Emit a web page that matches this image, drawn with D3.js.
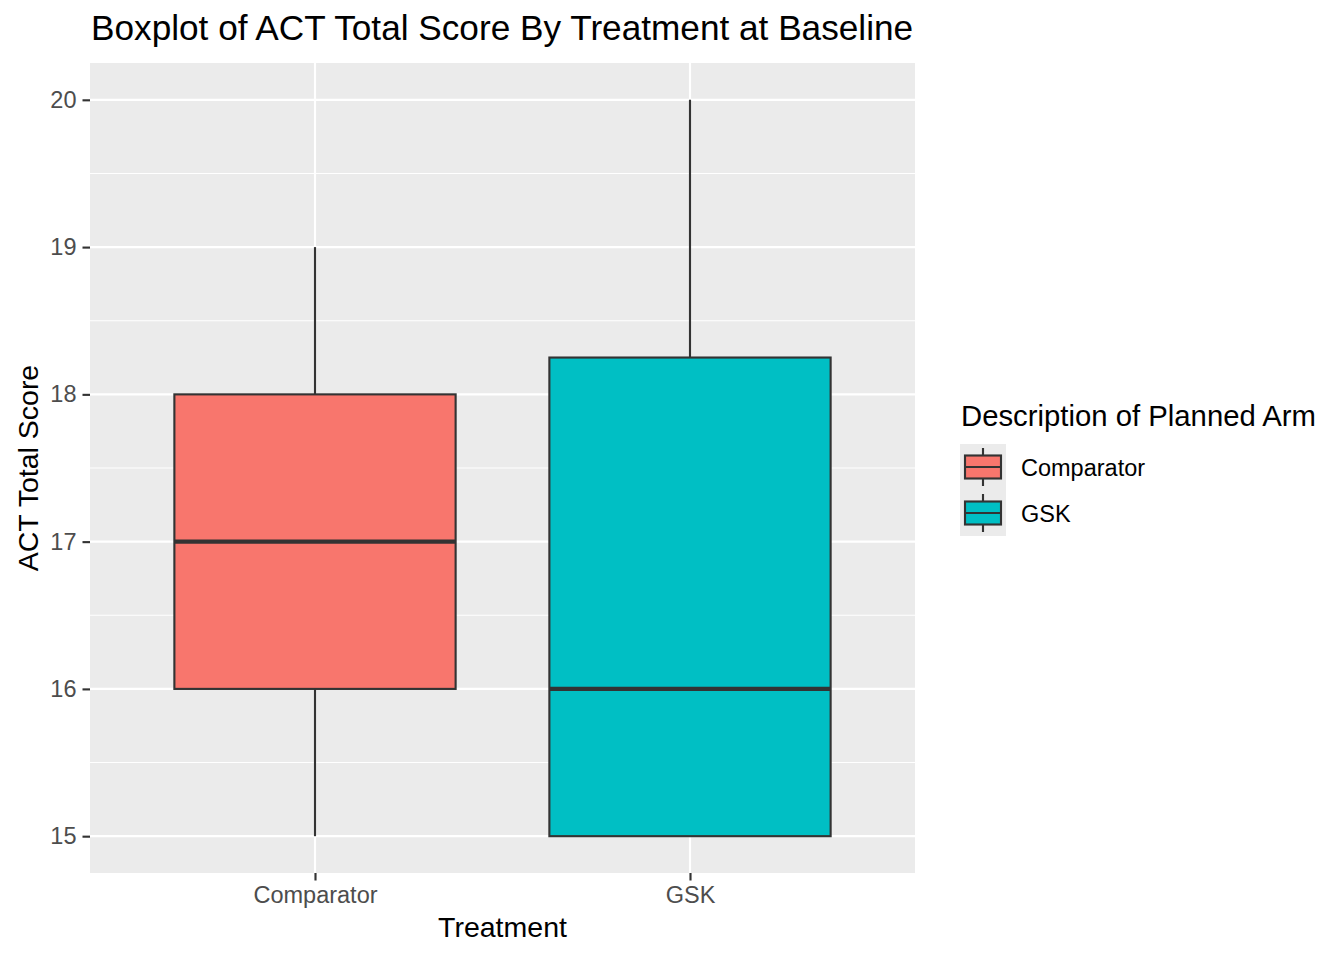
<!DOCTYPE html>
<html>
<head>
<meta charset="utf-8">
<script src="https://cdn.jsdelivr.net/npm/d3@7"></script>
<style>
body{margin:0;background:#fff;}
text{font-family:"Liberation Sans",Arial,sans-serif;}
</style>
</head>
<body>
<div id="chart-area"></div>
<script>
// data
let groups=["Comparator","GSK"];
let lowWhisker=[15,15];
let q1=[16,15];
let median=[17,16];
let q3=[18,18.25];
let highWhisker=[19,20];
let yTicks=[15,16,17,18,19,20];
let yMinor=[15.5,16.5,17.5,18.5,19.5];
let fills=["#F8766D","#00BFC4"];

let W=1344,H=960;
let panel={left:90,right:915,top:63,bottom:873};

let svg=d3.select("#chart-area").append("svg")
	.attr("width",W)
	.attr("height",H);

//---------SCALES--------------
let x=d3.scaleLinear()
	.domain([0.4,2.6])
	.range([panel.left,panel.right]);

let y=d3.scaleLinear()
	.domain([14.75,20.25])
	.range([panel.bottom,panel.top]);

let bw=0.75;

//---------PANEL--------------
svg.append("rect")
	.attr("x",panel.left)
	.attr("y",panel.top)
	.attr("width",panel.right-panel.left)
	.attr("height",panel.bottom-panel.top)
	.attr("fill","#EBEBEB");

svg.selectAll(".minor").data(yMinor).enter().append("line")
	.attr("x1",panel.left).attr("x2",panel.right)
	.attr("y1",d=>y(d)).attr("y2",d=>y(d))
	.attr("stroke","#fff").attr("stroke-width",1.07);

svg.selectAll(".major").data(yTicks).enter().append("line")
	.attr("x1",panel.left).attr("x2",panel.right)
	.attr("y1",d=>y(d)).attr("y2",d=>y(d))
	.attr("stroke","#fff").attr("stroke-width",2.13);

svg.selectAll(".vmajor").data(groups).enter().append("line")
	.attr("x1",(d,i)=>x(i+1)).attr("x2",(d,i)=>x(i+1))
	.attr("y1",panel.top).attr("y2",panel.bottom)
	.attr("stroke","#fff").attr("stroke-width",2.13);

//-------AXES------------------
let yAxis=d3.axisLeft(y).tickValues(yTicks).tickFormat(d3.format("d")).tickSize(7.5).tickPadding(6);
let yAxisGroup=svg.append("g")
	.attr("transform","translate("+panel.left+",0)")
	.call(yAxis);

let xAxis=d3.axisBottom(x).tickValues([1,2]).tickFormat(d=>groups[d-1]).tickSize(7.5).tickPadding(6);
let xAxisGroup=svg.append("g")
	.attr("transform","translate(0,"+panel.bottom+")")
	.call(xAxis);

[yAxisGroup,xAxisGroup].forEach(function(a){
	a.select(".domain").remove();
	a.selectAll(".tick line").attr("stroke","#333333").attr("stroke-width",2.13);
	a.selectAll(".tick text").attr("fill","#4D4D4D").attr("font-size","23.5px")
		.style("font-family","'Liberation Sans',Arial,sans-serif");
});

//---------BOXES--------------
let boxes=svg.selectAll(".box").data(groups).enter().append("g");

boxes.append("line")
	.attr("x1",(d,i)=>x(i+1)).attr("x2",(d,i)=>x(i+1))
	.attr("y1",(d,i)=>y(q3[i])).attr("y2",(d,i)=>y(highWhisker[i]))
	.attr("stroke","#333333").attr("stroke-width",2.13);

boxes.append("line")
	.attr("x1",(d,i)=>x(i+1)).attr("x2",(d,i)=>x(i+1))
	.attr("y1",(d,i)=>y(q1[i])).attr("y2",(d,i)=>y(lowWhisker[i]))
	.attr("stroke","#333333").attr("stroke-width",2.13);

boxes.append("rect")
	.attr("x",(d,i)=>x(i+1-bw/2))
	.attr("width",(d,i)=>x(i+1+bw/2)-x(i+1-bw/2))
	.attr("y",(d,i)=>y(q3[i]))
	.attr("height",(d,i)=>y(q1[i])-y(q3[i]))
	.attr("fill",(d,i)=>fills[i])
	.attr("stroke","#333333").attr("stroke-width",2.13);

boxes.append("line")
	.attr("x1",(d,i)=>x(i+1-bw/2)).attr("x2",(d,i)=>x(i+1+bw/2))
	.attr("y1",(d,i)=>y(median[i])).attr("y2",(d,i)=>y(median[i]))
	.attr("stroke","#333333").attr("stroke-width",4.26);

//------LABELS----------------
svg.append("text")
	.attr("x",91).attr("y",40)
	.attr("font-size","35.2px")
	.text("Boxplot of ACT Total Score By Treatment at Baseline");

svg.append("text")
	.attr("x",(panel.left+panel.right)/2).attr("y",937)
	.attr("text-anchor","middle").attr("font-size","28.5px")
	.text("Treatment");

svg.append("text")
	.attr("transform","translate(38,"+((panel.top+panel.bottom)/2)+") rotate(-90)")
	.attr("text-anchor","middle").attr("font-size","28.5px")
	.text("ACT Total Score");

//--------LEGEND--------------
svg.append("text")
	.attr("x",961).attr("y",426)
	.attr("font-size","29.3px")
	.text("Description of Planned Arm");

let legend=svg.append("g").attr("transform","translate(960,444)");

groups.forEach(function(g,i){
	let row=legend.append("g").attr("transform","translate(0,"+i*46+")");
	row.append("rect").attr("width",46).attr("height",46).attr("fill","#EBEBEB");
	row.append("line").attr("x1",23).attr("x2",23).attr("y1",4).attr("y2",42)
		.attr("stroke","#333333").attr("stroke-width",2.13);
	row.append("rect").attr("x",5).attr("y",11.5).attr("width",36).attr("height",23)
		.attr("fill",fills[i]).attr("stroke","#333333").attr("stroke-width",2.13);
	row.append("line").attr("x1",5).attr("x2",41).attr("y1",23).attr("y2",23)
		.attr("stroke","#333333").attr("stroke-width",2.13);
	row.append("text").attr("x",61).attr("y",31.5)
		.attr("font-size","23.5px")
		.text(g);
});
</script>
</body>
</html>
